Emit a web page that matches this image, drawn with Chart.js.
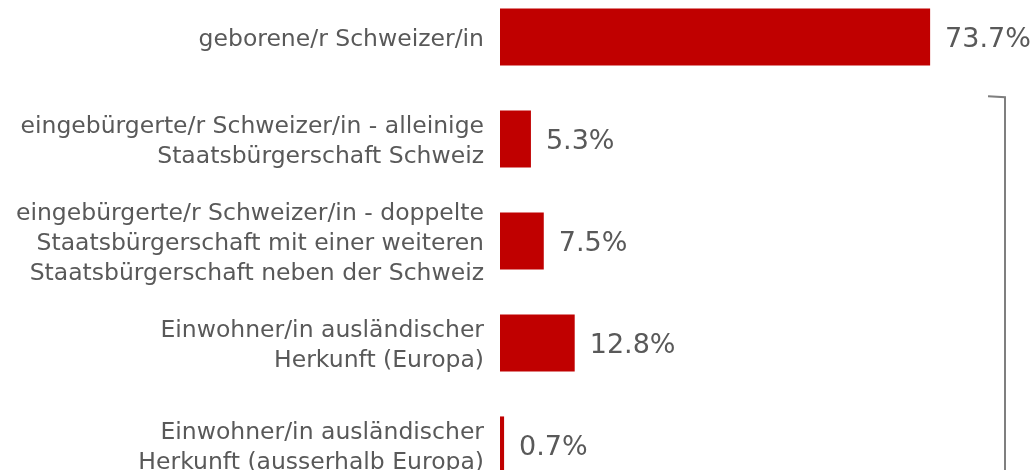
<!DOCTYPE html>
<html>
<head>
<meta charset="utf-8">
<script src="https://cdn.jsdelivr.net/npm/chart.js@4.4.1/dist/chart.umd.min.js"></script>
<style>
  html, body { margin: 0; padding: 0; background: #fff; overflow: hidden; }
  #wrap { position: absolute; left: 0; top: -14px; width: 1035px; height: 510px; }
</style>
</head>
<body>
<div id="wrap"><canvas id="chart"></canvas></div>
<script>
// categories (multi-line labels) and shares in percent
const labels = [
  ["geborene/r Schweizer/in"],
  ["eingebürgerte/r Schweizer/in - alleinige", "Staatsbürgerschaft Schweiz"],
  ["eingebürgerte/r Schweizer/in - doppelte", "Staatsbürgerschaft mit einer weiteren", "Staatsbürgerschaft neben der Schweiz"],
  ["Einwohner/in ausländischer", "Herkunft (Europa)"],
  ["Einwohner/in ausländischer", "Herkunft (ausserhalb Europa)"]
];
const shares = [73.7, 5.3, 7.5, 12.8, 0.7];

const textColor = "#595959";
const fontFamily = "'DejaVu Sans', sans-serif";

// writes the value next to each bar
const valueLabels = {
  id: "valueLabels",
  afterDatasetsDraw(chart) {
    const ctx = chart.ctx;
    const meta = chart.getDatasetMeta(0);
    ctx.save();
    ctx.font = "27px " + fontFamily;
    ctx.fillStyle = textColor;
    ctx.textAlign = "left";
    ctx.textBaseline = "middle";
    meta.data.forEach((bar, i) => {
      ctx.fillText(shares[i].toFixed(1) + "%", bar.x + 15, bar.y + 3);
    });
    ctx.restore();
  }
};

// bracket grouping the non-native categories
const bracket = {
  id: "bracket",
  afterDraw(chart) {
    const ctx = chart.ctx;
    const y = chart.scales.y;
    const band = y.getPixelForValue(1) - y.getPixelForValue(0);
    const top = y.getPixelForValue(1) - band * 0.42;
    const x = chart.chartArea.right - 15;
    ctx.save();
    ctx.strokeStyle = "#7f7f7f";
    ctx.lineWidth = 2;
    ctx.beginPath();
    ctx.moveTo(x - 17, top);
    ctx.lineTo(x, top + 1);
    ctx.lineTo(x, chart.height);
    ctx.stroke();
    ctx.restore();
  }
};

const ctx = document.getElementById("chart").getContext("2d");

new Chart(ctx, {
  type: "bar",
  data: {
    labels: labels,
    datasets: [
      {
        data: shares,
        backgroundColor: "#c00000",
        borderWidth: 0,
        barPercentage: 0.56,
        categoryPercentage: 1
      }
    ]
  },
  options: {
    indexAxis: "y",
    responsive: true,
    maintainAspectRatio: false,
    animation: false,
    layout: { padding: { left: 0, right: 15, top: 0, bottom: 0 } },
    plugins: {
      legend: { display: false },
      tooltip: { enabled: false }
    },
    scales: {
      x: {
        display: false,
        min: 0,
        max: 89.1
      },
      y: {
        afterFit(scale) {
          scale.width = 500;
          scale.paddingTop = 0;
          scale.paddingBottom = 0;
        },
        grid: { display: false, drawTicks: false },
        border: { display: false },
        ticks: {
          color: textColor,
          padding: 16,
          labelOffset: 3,
          font: { family: fontFamily, size: 23.5, lineHeight: 1.28 }
        }
      }
    }
  },
  plugins: [valueLabels, bracket]
});
</script>
</body>
</html>
